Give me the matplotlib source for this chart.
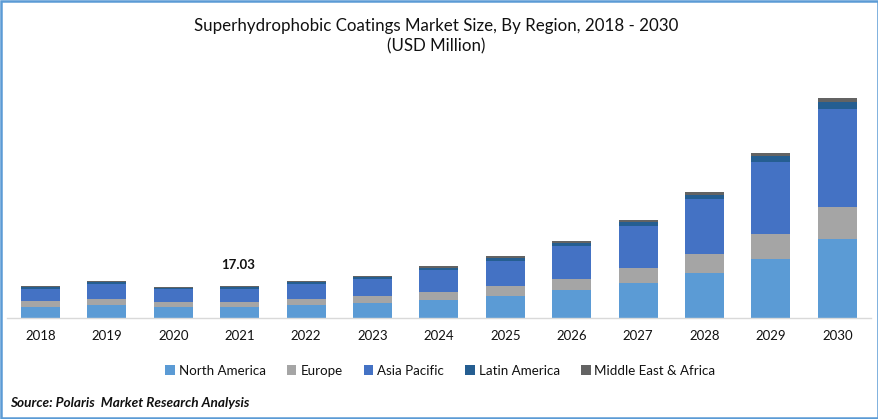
# plot.py
# Superhydrophobic coatings market size, stacked bars by region

import numpy as np
import matplotlib.pyplot as plt
from matplotlib.patches import Rectangle

plt.rcParams["font.family"] = ["Lato", "DejaVu Sans"]

years = [2018, 2019, 2020, 2021, 2022, 2023, 2024, 2025, 2026, 2027, 2028, 2029, 2030]

north_america = [5.9, 6.9, 5.9, 5.9, 6.9, 8.0, 9.6, 11.7, 14.9, 18.6, 23.9, 31.4, 42.0]
europe = [3.2, 3.2, 2.7, 2.7, 3.2, 3.7, 4.3, 5.3, 5.9, 8.0, 10.1, 13.3, 17.0]
asia_pacific = [6.4, 8.0, 6.9, 6.9, 8.0, 9.0, 11.7, 13.3, 17.6, 22.3, 29.3, 38.3, 52.1]
latin_america = [0.8, 1.1, 0.7, 0.8, 1.0, 1.1, 1.2, 1.6, 1.6, 2.1, 2.1, 3.2, 3.7]
middle_east_africa = [0.7, 0.7, 0.5, 0.73, 0.6, 0.6, 0.8, 1.0, 1.0, 1.1, 1.6, 1.6, 2.1]

series = [
    ("North America", north_america, "#5B9BD5"),
    ("Europe", europe, "#A5A5A5"),
    ("Asia Pacific", asia_pacific, "#4472C4"),
    ("Latin America", latin_america, "#255E91"),
    ("Middle East & Africa", middle_east_africa, "#636363"),
]

W, H = 879, 419
fig = plt.figure(figsize=(W / 100, H / 100), dpi=100)

# axes placed in pixels, baseline at y=318
ax = fig.add_axes([7 / W, (H - 318) / H, (871 - 7) / W, (318 - 60) / H])
x = np.arange(len(years))
step = 66.4
ax.set_xlim(-(40.5 - 7) / step, (871 - 40.5) / step)
ax.set_ylim(0, 258 * 17.03 / 32)

bottom = np.zeros(len(years))
for name, values, color in series:
    ax.bar(x, values, bottom=bottom, width=0.59, color=color, label=name)
    bottom += np.array(values)

ax.set_xticks(x)
ax.set_xticklabels(years, fontsize=9.5, color="#111111")
ax.tick_params(axis="x", length=0, pad=8.3)
ax.set_yticks([])
for side in ["top", "left", "right"]:
    ax.spines[side].set_visible(False)
ax.spines["bottom"].set_color("#D9D9D9")
ax.spines["bottom"].set_linewidth(1.0)

ax.text(2.98, 17.03 + 7.9, "17.03", ha="center", va="bottom", fontsize=9.5, fontweight="bold", color="#111111")

fig.text(436.5 / W, 1 - 26 / H, "Superhydrophobic Coatings Market Size, By Region, 2018 - 2030",
         ha="center", va="center", fontsize=12.2, color="#111111")
fig.text(436.5 / W, 1 - 46 / H, "(USD Million)", ha="center", va="center", fontsize=12.2, color="#111111")

fig.legend(loc="center", bbox_to_anchor=(440.5 / W, 1 - 370.5 / H), ncol=5, frameon=False,
           fontsize=9.6, handlelength=0.7, handleheight=0.7, handletextpad=0.3, columnspacing=1.6,
           labelcolor="#111111")

fig.text(10 / W, 1 - 403 / H, "Source: Polaris  Market Research Analysis", ha="left", va="center",
         fontsize=9.8, fontweight="bold", fontstyle="italic", color="#111111")

# blue frame round the picture
fig.add_artist(Rectangle((1.25 / W, 1.25 / H), (W - 2.5) / W, (H - 2.5) / H, transform=fig.transFigure,
                         fill=False, edgecolor="#5B9BD5", linewidth=1.8))

fig.savefig("out.png", dpi=100)
